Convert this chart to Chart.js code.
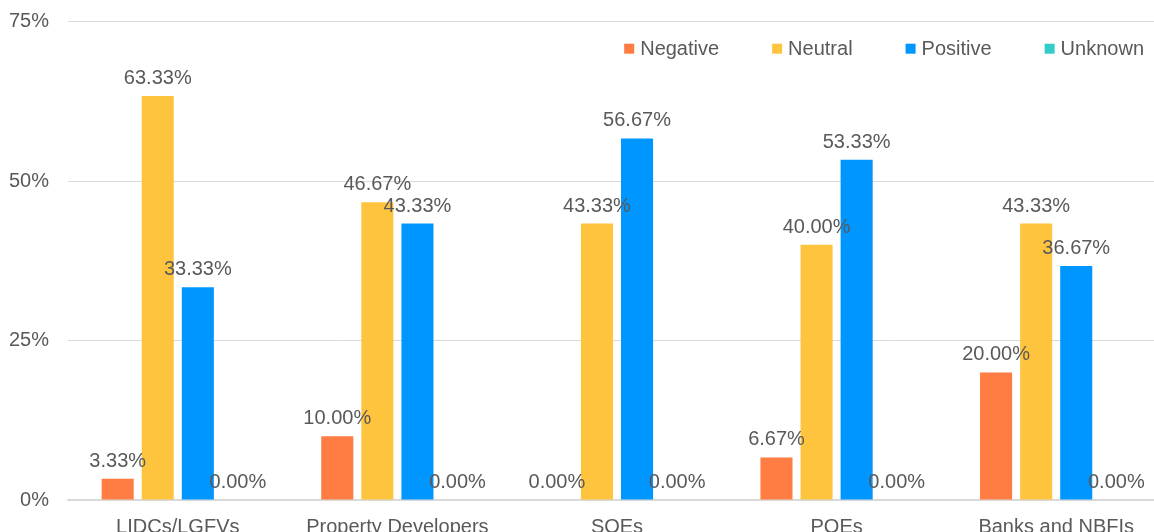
<!DOCTYPE html>
<html>
<head>
<meta charset="utf-8">
<script src="https://cdn.jsdelivr.net/npm/chart.js@4.4.1/dist/chart.umd.min.js"></script>
<style>
  html, body { margin: 0; padding: 0; background: #ffffff; }
  #wrap { width: 1154px; height: 532px; overflow: hidden; position: relative; }
  canvas { display: block; }
</style>
</head>
<body>
<div id="wrap"><canvas id="c" width="1166" height="532"></canvas></div>
<script>
const categories = ['LIDCs/LGFVs', 'Property Developers', 'SOEs', 'POEs', 'Banks and NBFIs'];
const negative = [3.33, 10.00, 0.00, 6.67, 20.00];
const neutral  = [63.33, 46.67, 43.33, 40.00, 43.33];
const positive = [33.33, 43.33, 56.67, 53.33, 36.67];
const unknown  = [0.00, 0.00, 0.00, 0.00, 0.00];
const yTicks   = [0, 25, 50, 75];

const seriesNames  = ['Negative', 'Neutral', 'Positive', 'Unknown'];
const seriesColors = ['#FF7C43', '#FFC43E', '#0096FF', '#33CCCC'];
const seriesData   = [negative, neutral, positive, unknown];

const FONT = '"Liberation Sans", Arial, sans-serif';
const TEXT = '#595959';

// Percentage labels above every bar
const valueLabels = {
  id: 'valueLabels',
  afterDatasetsDraw(chart) {
    const ctx = chart.ctx;
    ctx.save();
    ctx.font = '20px ' + FONT;
    ctx.fillStyle = TEXT;
    ctx.textAlign = 'center';
    ctx.textBaseline = 'alphabetic';
    chart.data.datasets.forEach((ds, i) => {
      const meta = chart.getDatasetMeta(i);
      meta.data.forEach((bar, j) => {
        ctx.fillText(ds.data[j].toFixed(2) + '%', bar.x, bar.y - 12);
      });
    });
    ctx.restore();
  }
};

// Legend drawn inside the plot area, top right
const insideLegend = {
  id: 'insideLegend',
  afterDraw(chart) {
    const ctx = chart.ctx;
    ctx.save();
    ctx.font = '20px ' + FONT;
    ctx.textBaseline = 'middle';
    ctx.textAlign = 'left';
    const box = 10, gapText = 6, gapItem = 53, cy = 48.7;
    const widths = chart.data.datasets.map(ds => box + gapText + ctx.measureText(ds.label).width);
    const total = widths.reduce((a, b) => a + b, 0) + gapItem * (widths.length - 1);
    let x = 1144 - total;
    chart.data.datasets.forEach((ds, i) => {
      ctx.fillStyle = ds.backgroundColor;
      ctx.fillRect(x, cy - box / 2, box, box);
      ctx.fillStyle = TEXT;
      ctx.fillText(ds.label, x + box + gapText, cy + 1);
      x += widths[i] + gapItem;
    });
    ctx.restore();
  }
};

new Chart(document.getElementById('c'), {
  type: 'bar',
  data: {
    labels: categories,
    datasets: seriesNames.map((name, i) => ({
      label: name,
      data: seriesData[i],
      backgroundColor: seriesColors[i],
      borderWidth: 0,
      barPercentage: 0.8,
      categoryPercentage: 0.73
    }))
  },
  options: {
    responsive: false,
    animation: false,
    devicePixelRatio: 1,
    layout: { padding: { top: 21.5, left: 0, right: 0, bottom: 0 } },
    plugins: {
      legend: { display: false },
      tooltip: { enabled: false }
    },
    scales: {
      x: {
        grid: { display: false, drawTicks: false },
        border: { display: true, color: '#d9d9d9', width: 1.5 },
        ticks: { color: TEXT, font: { size: 20, family: FONT }, padding: 15, maxRotation: 0, autoSkip: false },
        afterFit(scale) {
          scale.height = 32;
          scale.paddingLeft = 0;
          scale.paddingRight = 0;
        }
      },
      y: {
        min: 0,
        max: 75,
        afterBuildTicks(scale) { scale.ticks = yTicks.map(v => ({ value: v })); },
        grid: { color: '#d9d9d9', lineWidth: 1, drawTicks: false },
        border: { display: false },
        ticks: { color: TEXT, font: { size: 20, family: FONT }, padding: 19, callback: v => v + '%' },
        afterFit(scale) {
          scale.width = 68;
          scale.paddingTop = 0;
          scale.paddingBottom = 0;
        }
      }
    }
  },
  plugins: [valueLabels, insideLegend]
});
</script>
</body>
</html>
